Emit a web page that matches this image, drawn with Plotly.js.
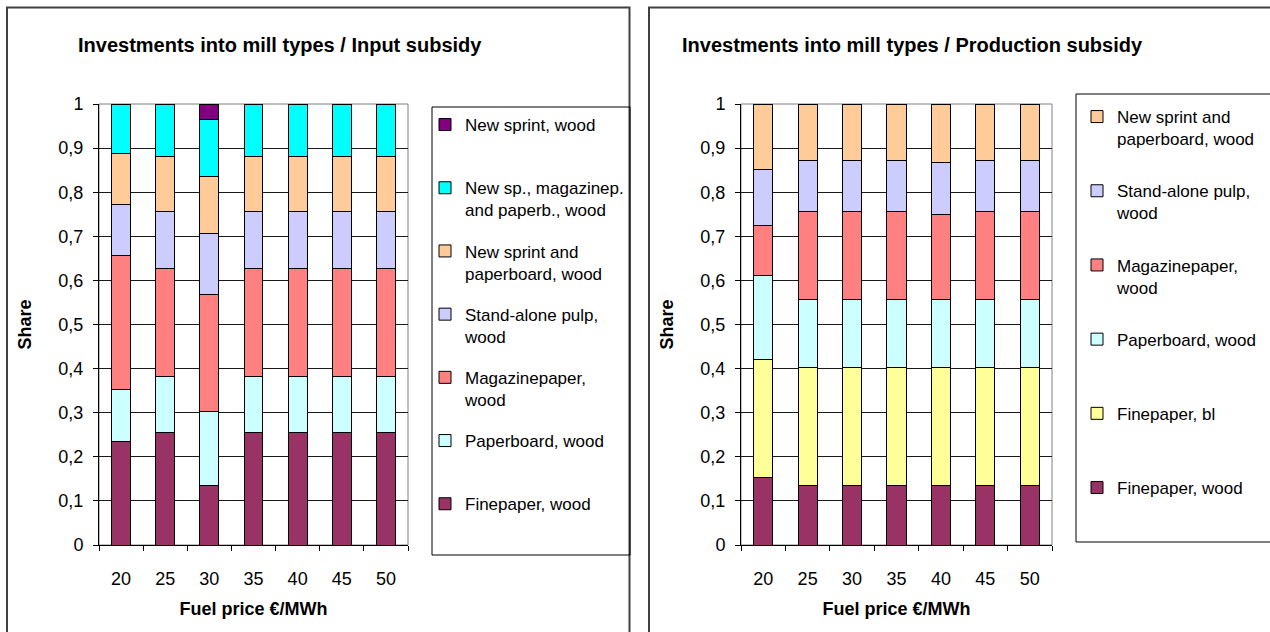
<!DOCTYPE html>
<html><head><meta charset="utf-8">
<script src="https://cdn.plot.ly/plotly-3.0.1.min.js"></script>
<style>html,body{margin:0;padding:0;background:#fff;} #chart{width:1270px;height:632px;}</style>
</head><body><div id="chart"></div>
<script>
// Categories
const fuelPrices = ['20', '25', '30', '35', '40', '45', '50'];

// Input subsidy (left chart), bottom to top
const inFinepaperWood   = [0.234, 0.255, 0.136, 0.255, 0.255, 0.255, 0.255];
const inPaperboardWood  = [0.118, 0.126, 0.166, 0.126, 0.126, 0.126, 0.126];
const inMagazineWood    = [0.304, 0.246, 0.267, 0.246, 0.246, 0.246, 0.246];
const inPulpWood        = [0.116, 0.130, 0.137, 0.130, 0.130, 0.130, 0.130];
const inNsPaperbWood    = [0.115, 0.123, 0.129, 0.123, 0.123, 0.123, 0.123];
const inNsMagPbWood     = [0.113, 0.120, 0.130, 0.120, 0.120, 0.120, 0.120];
const inNewsprintWood   = [0, 0, 0.035, 0, 0, 0, 0];

// Production subsidy (right chart), bottom to top
const prFinepaperWood   = [0.153, 0.136, 0.136, 0.136, 0.136, 0.136, 0.136];
const prFinepaperBl     = [0.267, 0.267, 0.267, 0.267, 0.267, 0.267, 0.267];
const prPaperboardWood  = [0.191, 0.153, 0.153, 0.153, 0.153, 0.153, 0.153];
const prMagazineWood    = [0.114, 0.200, 0.200, 0.200, 0.194, 0.200, 0.200];
const prPulpWood        = [0.127, 0.115, 0.115, 0.115, 0.117, 0.115, 0.115];
const prNsPaperbWood    = [0.148, 0.129, 0.129, 0.129, 0.133, 0.129, 0.129];

// Labels
const leftTitle = 'Investments into mill types / Input subsidy';
const rightTitle = 'Investments into mill types / Production subsidy';
const xTitle = 'Fuel price €/MWh';
const yTitle = 'Share';
const PAD = '<br>\u00a0';

const W = 1270, H = 632;
const px = v => v / W;
const py = v => 1 - v / H;
const FONT = 'Liberation Sans, Arial, sans-serif';

function bar(y, name, color, xa, ya, leg, grp, rank) {
  return {
    type: 'bar', x: fuelPrices, y: y, name: name,
    xaxis: xa, yaxis: ya, legend: leg, legendgroup: grp, legendrank: rank,
    marker: {color: color, line: {color: '#000', width: 1}},
    hoverinfo: 'x+y+name'
  };
}

const data = [
  bar(inFinepaperWood, 'Finepaper, wood' + PAD, '#993366', 'x', 'y', 'legend', 'a1', 7),
  bar(inPaperboardWood, 'Paperboard, wood' + PAD, '#CCFFFF', 'x', 'y', 'legend', 'a2', 6),
  bar(inMagazineWood, 'Magazinepaper,<br>wood', '#FF8080', 'x', 'y', 'legend', 'a3', 5),
  bar(inPulpWood, 'Stand-alone pulp,<br>wood', '#CCCCFF', 'x', 'y', 'legend', 'a4', 4),
  bar(inNsPaperbWood, 'New sprint and<br>paperboard, wood', '#FFCC99', 'x', 'y', 'legend', 'a5', 3),
  bar(inNsMagPbWood, 'New sp., magazinep.<br>and paperb., wood', '#00FFFF', 'x', 'y', 'legend', 'a6', 2),
  bar(inNewsprintWood, 'New sprint, wood' + PAD, '#800080', 'x', 'y', 'legend', 'a7', 1),

  bar(prFinepaperWood, 'Finepaper, wood' + PAD, '#993366', 'x2', 'y2', 'legend2', 'b1', 6),
  bar(prFinepaperBl, 'Finepaper, bl' + PAD, '#FFFF99', 'x2', 'y2', 'legend2', 'b2', 5),
  bar(prPaperboardWood, 'Paperboard, wood' + PAD, '#CCFFFF', 'x2', 'y2', 'legend2', 'b3', 4),
  bar(prMagazineWood, 'Magazinepaper,<br>wood', '#FF8080', 'x2', 'y2', 'legend2', 'b4', 3),
  bar(prPulpWood, 'Stand-alone pulp,<br>wood', '#CCCCFF', 'x2', 'y2', 'legend2', 'b5', 2),
  bar(prNsPaperbWood, 'New sprint and<br>paperboard, wood', '#FFCC99', 'x2', 'y2', 'legend2', 'b6', 1)
];

function xax(d, anchor) {
  return {
    domain: d, anchor: anchor, type: 'category', tickson: 'boundaries',
    ticks: 'outside', ticklen: 5, tickcolor: '#000', tickwidth: 1,
    showline: true, linecolor: '#000', linewidth: 1, showgrid: false, zeroline: false,
    tickfont: {size: 18, color: '#000'}, ticklabelstandoff: 17,
    title: {text: xTitle, font: {size: 18, weight: 'bold', color: '#000'}, standoff: 14},
    fixedrange: true
  };
}
function yax(anchor) {
  return {
    domain: [py(545), py(104)], anchor: anchor, range: [0, 1], dtick: 0.1, tick0: 0,
    ticks: 'outside', ticklen: 5, tickcolor: '#000', tickwidth: 1,
    showline: true, linecolor: '#000', linewidth: 1,
    showgrid: true, gridcolor: '#1a1a1a', gridwidth: 1, zeroline: false,
    tickfont: {size: 18, color: '#000'}, ticklabelstandoff: 6,
    title: {text: yTitle, font: {size: 18, weight: 'bold', color: '#000'}, standoff: 22},
    fixedrange: true
  };
}

const layout = {
  width: W, height: H,
  margin: {l: 0, r: 0, t: 0, b: 0},
  paper_bgcolor: '#fff', plot_bgcolor: '#fff',
  font: {family: FONT, color: '#000'},
  separators: ', ',
  barmode: 'stack', bargap: 0.57,
  xaxis: xax([px(99), px(408)], 'y'),
  yaxis: yax('x'),
  xaxis2: xax([px(741), px(1052)], 'y2'),
  yaxis2: yax('x2'),
  legend: {
    x: px(425), y: py(107), xanchor: 'left', yanchor: 'top',
    bgcolor: 'rgba(0,0,0,0)', borderwidth: 0,
    font: {size: 17, family: FONT, color: '#000'},
    traceorder: 'grouped', tracegroupgap: 16, valign: 'top'
  },
  legend2: {
    x: px(1077), y: py(99), xanchor: 'left', yanchor: 'top',
    bgcolor: 'rgba(0,0,0,0)', borderwidth: 0,
    font: {size: 17, family: FONT, color: '#000'},
    traceorder: 'grouped', tracegroupgap: 27, valign: 'top'
  },
  annotations: [
    {text: leftTitle, xref: 'paper', yref: 'paper', x: px(280), y: py(45),
     xanchor: 'center', yanchor: 'middle', showarrow: false,
     font: {size: 20, weight: 'bold', family: FONT, color: '#000'}},
    {text: rightTitle, xref: 'paper', yref: 'paper', x: px(912), y: py(45),
     xanchor: 'center', yanchor: 'middle', showarrow: false,
     font: {size: 20, weight: 'bold', family: FONT, color: '#000'}}
  ],
  shapes: [
    {type: 'rect', xref: 'paper', yref: 'paper', x0: px(7), x1: px(629.5), y0: py(7.5), y1: py(700),
     line: {color: '#404040', width: 2}},
    {type: 'rect', xref: 'paper', yref: 'paper', x0: px(649), x1: px(1300), y0: py(7.5), y1: py(700),
     line: {color: '#404040', width: 2}},
    {type: 'rect', xref: 'paper', yref: 'paper', x0: px(99), x1: px(408), y0: py(104), y1: py(545),
     line: {color: '#808080', width: 1}, layer: 'below'},
    {type: 'rect', xref: 'paper', yref: 'paper', x0: px(741), x1: px(1052), y0: py(104), y1: py(545),
     line: {color: '#808080', width: 1}, layer: 'below'},
    {type: 'rect', xref: 'paper', yref: 'paper', x0: px(432), x1: px(630), y0: py(107), y1: py(555),
     line: {color: '#000', width: 1}},
    {type: 'rect', xref: 'paper', yref: 'paper', x0: px(1076), x1: px(1300), y0: py(94), y1: py(542),
     line: {color: '#000', width: 1}}
  ]
};

Plotly.newPlot('chart', data, layout, {displayModeBar: false, responsive: false});
</script>
</body></html>
